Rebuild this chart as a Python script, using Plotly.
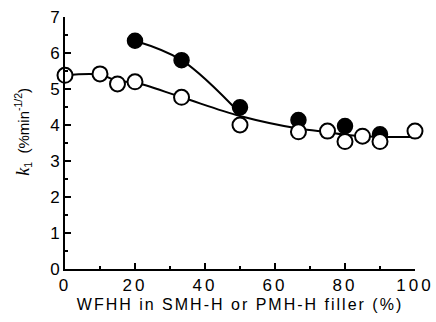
import plotly.graph_objects as go

# Data
filled_x = [20, 33.3, 50, 66.7, 80, 90]
filled_y = [6.34, 5.80, 4.49, 4.14, 3.97, 3.74]

open_x = [0, 10, 15, 20, 33.3, 50, 66.7, 75, 80, 85, 90, 100]
open_y = [5.38, 5.42, 5.14, 5.20, 4.77, 4.00, 3.81, 3.83, 3.54, 3.69, 3.54, 3.83]

# Smooth trend curves
fit_filled_x = [20, 33.3, 50]
fit_filled_y = [6.34, 5.80, 4.32]
fit_open_x = [0, 10, 15, 20, 33.3, 50, 66.7, 75, 80, 90, 100]
fit_open_y = [5.38, 5.40, 5.22, 5.18, 4.77, 4.25, 3.90, 3.80, 3.73, 3.67, 3.67]

x_ticks = [0, 20, 40, 60, 80, 100]
y_ticks = [0, 1, 2, 3, 4, 5, 6, 7]

x_title = "WFHH in SMH-H or PMH-H filler (%)"

fig = go.Figure()
fig.add_trace(go.Scatter(x=fit_open_x, y=fit_open_y, mode="lines",
                         line=dict(color="black", width=2, shape="spline", smoothing=1.0),
                         hoverinfo="skip", showlegend=False))
fig.add_trace(go.Scatter(x=fit_filled_x, y=fit_filled_y, mode="lines",
                         line=dict(color="black", width=2, shape="spline", smoothing=1.0),
                         hoverinfo="skip", showlegend=False))
fig.add_trace(go.Scatter(x=filled_x, y=filled_y, mode="markers",
                         marker=dict(size=15, color="black", line=dict(color="black", width=1.5)),
                         cliponaxis=False, showlegend=False))
fig.add_trace(go.Scatter(x=open_x, y=open_y, mode="markers",
                         marker=dict(size=15, color="white", line=dict(color="black", width=2)),
                         cliponaxis=False, showlegend=False))

sans = "Liberation Sans, Arial, sans-serif"
tick_font = dict(family=sans, size=17, color="black")

fig.update_layout(
    width=436, height=322,
    margin=dict(l=65, r=21, t=17, b=53),
    paper_bgcolor="white", plot_bgcolor="white",
    font=tick_font,
    xaxis=dict(
        range=[0, 100], tickvals=x_ticks,
        ticktext=[f"<span style='letter-spacing:3px'>{v}</span>" for v in x_ticks],
        ticks="inside", ticklen=6, tickwidth=1.5,
        tickcolor="black", showline=True, linecolor="black", linewidth=2,
        showgrid=False, zeroline=False, tickfont=tick_font, automargin=False,
        minor=dict(dtick=10, ticks="inside", ticklen=3, tickwidth=1.5, tickcolor="black"),
        title=dict(text=f"<span style='letter-spacing:2px'>{x_title}</span>", standoff=4,
                   font=dict(family=sans, size=16, color="black")),
    ),
    yaxis=dict(
        range=[0, 7], tickvals=y_ticks, ticks="inside", ticklen=6, tickwidth=1.5,
        tickcolor="black", showline=True, linecolor="black", linewidth=2,
        showgrid=False, zeroline=False, tickfont=tick_font, automargin=False,
        minor=dict(dtick=0.5, ticks="inside", ticklen=3, tickwidth=1.5, tickcolor="black"),
    ),
)

fig.add_annotation(
    text="<span style='font-family:Liberation Serif;font-size:18px'><i>k</i></span><sub>1</sub>  (%min<sup>-1/2</sup>)",
    xref="paper", yref="paper", x=-0.12, y=0.545, xanchor="center", yanchor="middle",
    textangle=-90, showarrow=False, font=dict(family=sans, size=15, color="black"),
)

fig.write_html("out.html", config={"displayModeBar": False},
               post_script="document.body.style.margin='0';")
